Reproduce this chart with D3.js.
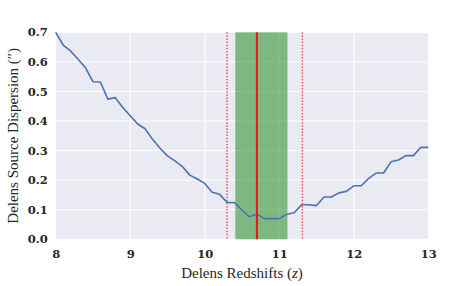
<!DOCTYPE html>
<html>
<head>
<meta charset="utf-8">
<script src="https://cdn.jsdelivr.net/npm/d3@7"></script>
<style>
  body { margin: 0; background: #fff; }
  .tick text { font-family: "DejaVu Serif", serif; font-weight: bold; font-size: 11.5px; fill: #262626; }
  .axis-label { font-family: "Liberation Serif", serif; font-size: 15px; fill: #262626; }
</style>
</head>
<body>
<svg id="chart"></svg>
<script>
// delens redshift grid and source dispersion values
const redshifts = [8.0, 8.1, 8.2, 8.3, 8.4, 8.5, 8.6, 8.7, 8.8, 8.9,
    9.0, 9.1, 9.2, 9.3, 9.4, 9.5, 9.6, 9.7, 9.8, 9.9,
    10.0, 10.1, 10.2, 10.3, 10.4, 10.5, 10.6, 10.7, 10.8, 10.9,
    11.0, 11.1, 11.2, 11.3, 11.4, 11.5, 11.6, 11.7, 11.8, 11.9,
    12.0, 12.1, 12.2, 12.3, 12.4, 12.5, 12.6, 12.7, 12.8, 12.9, 13.0];
const dispersion = [0.700, 0.657, 0.637, 0.609, 0.580, 0.533, 0.532, 0.474, 0.479, 0.446,
    0.418, 0.390, 0.374, 0.338, 0.308, 0.282, 0.265, 0.246, 0.217, 0.204,
    0.189, 0.159, 0.152, 0.125, 0.124, 0.099, 0.076, 0.085, 0.070, 0.070,
    0.070, 0.085, 0.090, 0.117, 0.117, 0.114, 0.143, 0.143, 0.157, 0.162,
    0.181, 0.181, 0.206, 0.224, 0.224, 0.262, 0.268, 0.283, 0.283, 0.311, 0.311];

const xTicks = [8, 9, 10, 11, 12, 13];
const yTicks = [0.0, 0.1, 0.2, 0.3, 0.4, 0.5, 0.6, 0.7];

const bestZ = 10.70;          // solid red line
const bandZ = [10.41, 11.11]; // green band
const limitZ = [10.30, 11.31]; // dotted red lines

const width = 463, height = 286;
const margin = { top: 32.3, right: 34.7, bottom: 46.7, left: 55.7 };
const innerW = width - margin.left - margin.right;
const innerH = height - margin.top - margin.bottom;

const svg = d3.select("#chart").attr("width", width).attr("height", height);
const chart = svg.append("g").attr("transform", `translate(${margin.left},${margin.top})`);

const x = d3.scaleLinear().domain([8, 13]).range([0, innerW]);
const y = d3.scaleLinear().domain([0, 0.7]).range([innerH, 0]);

chart.append("rect").attr("width", innerW).attr("height", innerH).attr("fill", "#eaeaf2");

// grid
chart.selectAll(".xgrid").data(xTicks).join("line")
    .attr("x1", d => x(d)).attr("x2", d => x(d))
    .attr("y1", 0).attr("y2", innerH)
    .attr("stroke", "#fff").attr("stroke-width", 1);
chart.selectAll(".ygrid").data(yTicks).join("line")
    .attr("x1", 0).attr("x2", innerW)
    .attr("y1", d => y(d)).attr("y2", d => y(d))
    .attr("stroke", "#fff").attr("stroke-width", 1);

// green band
chart.append("rect")
    .attr("x", x(bandZ[0])).attr("width", x(bandZ[1]) - x(bandZ[0]))
    .attr("y", 0).attr("height", innerH)
    .attr("fill", "#3c9a3c").attr("fill-opacity", 0.62);

// dotted limits
chart.selectAll(".limit").data(limitZ).join("line")
    .attr("x1", d => x(d)).attr("x2", d => x(d))
    .attr("y1", 0).attr("y2", innerH)
    .attr("stroke", "#ff2a2a").attr("stroke-opacity", 0.8)
    .attr("stroke-width", 1.5).attr("stroke-dasharray", "1.5,1.6");

// data line
const line = d3.line().x((d, i) => x(redshifts[i])).y(d => y(d));
chart.append("path").datum(dispersion)
    .attr("d", line)
    .attr("fill", "none")
    .attr("stroke", "#4c72b0")
    .attr("stroke-width", 1.6)
    .attr("stroke-linejoin", "round");

// best redshift
chart.append("line")
    .attr("x1", x(bestZ)).attr("x2", x(bestZ))
    .attr("y1", 0).attr("y2", innerH)
    .attr("stroke", "#e8141c").attr("stroke-width", 2);

// axes
const xAxis = d3.axisBottom(x).tickValues(xTicks).tickSize(0).tickPadding(11).tickFormat(d3.format("d"));
const yAxis = d3.axisLeft(y).tickValues(yTicks).tickSize(0).tickPadding(8).tickFormat(d3.format(".1f"));

chart.append("g").attr("transform", `translate(0,${innerH})`).call(xAxis)
    .call(g => g.select(".domain").remove());
chart.append("g").call(yAxis)
    .call(g => g.select(".domain").remove());

// labels
const xl = svg.append("text").attr("class", "axis-label")
    .attr("x", margin.left + innerW / 2).attr("y", 278)
    .attr("text-anchor", "middle");
xl.append("tspan").text("Delens Redshifts (");
xl.append("tspan").attr("font-style", "italic").text("z");
xl.append("tspan").text(")");

svg.append("text").attr("class", "axis-label")
    .attr("transform", `translate(17.5,${margin.top + innerH / 2}) rotate(-90)`)
    .attr("text-anchor", "middle")
    .text("Delens Source Dispersion (\u2033)");
</script>
</body>
</html>
